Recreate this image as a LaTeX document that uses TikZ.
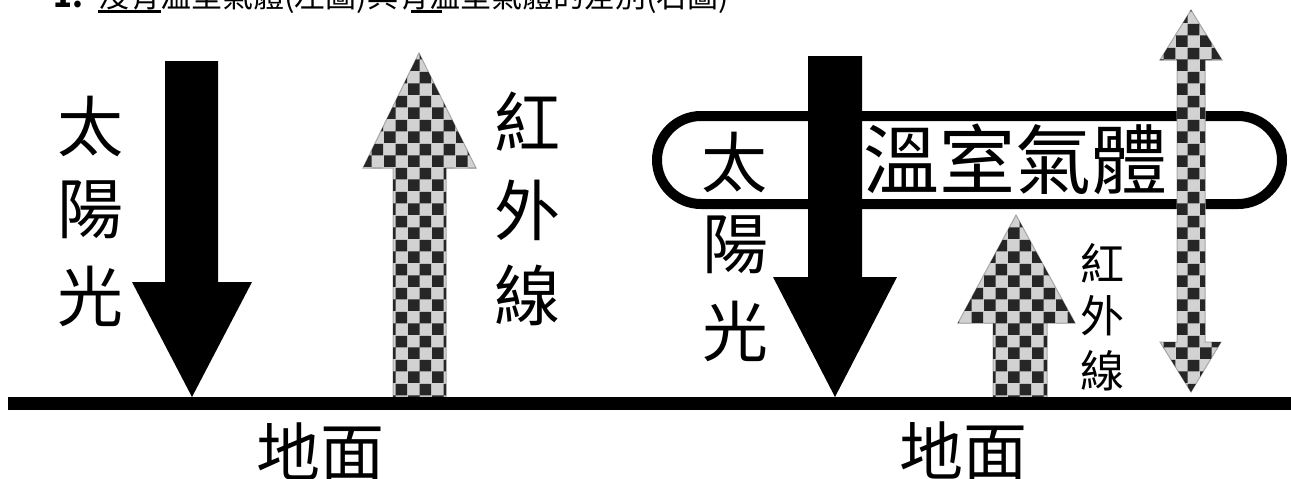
\documentclass[tikz,border=0pt]{standalone}
\usepackage{fontspec}
\newfontfamily\cjk{Noto Sans CJK TC}
\usetikzlibrary{patterns}
\pgfdeclarepatternformonly{chk}{\pgfpointorigin}{\pgfpoint{24pt}{24pt}}{\pgfpoint{24pt}{24pt}}{%
  \pgfpathrectangle{\pgfpointorigin}{\pgfpoint{12pt}{12pt}}%
  \pgfpathrectangle{\pgfpoint{12pt}{12pt}}{\pgfpoint{12pt}{12pt}}%
  \pgfusepath{fill}}
\tikzset{
  solidarrow/.style={fill=black},
  chkarrow/.style={fill=gray!35, postaction={pattern=chk, pattern color=black!85}, draw=gray!70, line width=1},
  ground/.style={line width=13, draw=black},
  band/.style={line width=10, draw=black, rounded corners=44},
  lab/.style={font=\cjk\fontsize{66}{66}\selectfont, inner sep=0},
  gnd/.style={font=\cjk\fontsize{64}{64}\selectfont, inner sep=0, anchor=north},
  ghg/.style={font=\cjk\fontsize{76}{76}\selectfont, inner sep=0},
  small/.style={font=\cjk\fontsize{44}{44}\selectfont, inner sep=0},
  captext/.style={font=\cjk\fontsize{31}{31}\selectfont, inner sep=0, anchor=base west},
  uline/.style={line width=3, draw=black}
}
\begin{document}
\begin{tikzpicture}[x=1pt,y=-1pt]
\useasboundingbox (0,0) rectangle (1291,479);
% caption (clipped at top)
\node[captext] (num) at (53,8) {\textbf{1.}};
\node[captext] (caption) at (98,8) {沒有溫室氣體(左圖)與有溫室氣體的差別(右圖)};
\coordinate (u1a) at (98,11); \coordinate (u1b) at (161,11);
\coordinate (u2a) at (411,11); \coordinate (u2b) at (442,11);
\draw[uline] (u1a) -- (u1b);
\draw[uline] (u2a) -- (u2b);

% greenhouse band
\draw[band] (657,116) rectangle (1282,204);

% left panel arrows
\path[solidarrow] (165,61) -- (218,61) -- (218,282) -- (252,282) -- (192,397) -- (132,282) -- (165,282) -- cycle;
\path[chkarrow] (393,397) -- (393,168) -- (363,168) -- (419,53) -- (476,168) -- (446,168) -- (446,397) -- cycle;

% right panel arrows
\path[solidarrow] (808,56) -- (862,56) -- (862,277) -- (897,277) -- (835,397) -- (773,277) -- (808,277) -- cycle;
\path[chkarrow] (993,397) -- (993,323) -- (958,323) -- (1016,215) -- (1075,323) -- (1047,323) -- (1047,397) -- cycle;
\path[chkarrow] (1177,60) -- (1160,60) -- (1191,10) -- (1222,60) -- (1205,60) -- (1205,342) -- (1221,342) -- (1191,392) -- (1160,342) -- (1177,342) -- cycle;

% ground lines
\coordinate (g0) at (8,403.5);
\coordinate (g1) at (1291,403.5);
\draw[ground] (g0) -- (g1);

% left labels
\node[lab] (lt) at (90,127) {太};
\node[lab] (ly) at (90,210) {陽};
\node[lab] (lg) at (90,296) {光};
\node[lab] (lr1) at (527,122) {紅};
\node[lab] (lr2) at (527,210) {外};
\node[lab] (lr3) at (527,295) {線};
\node[gnd] (lgnd) at (320,423) {地面};

% right labels
\node[lab] (rt) at (734,163) {太};
\node[lab] (ry) at (735,245) {陽};
\node[lab] (rg) at (735,331) {光};
\node[ghg] (gas) at (1015,159) {溫室氣體};
\node[small] (sr1) at (1102,263) {紅};
\node[small] (sr2) at (1102,316) {外};
\node[small] (sr3) at (1102,371) {線};
\node[gnd] (rgnd) at (963,422) {地面};
\end{tikzpicture}
\end{document}
